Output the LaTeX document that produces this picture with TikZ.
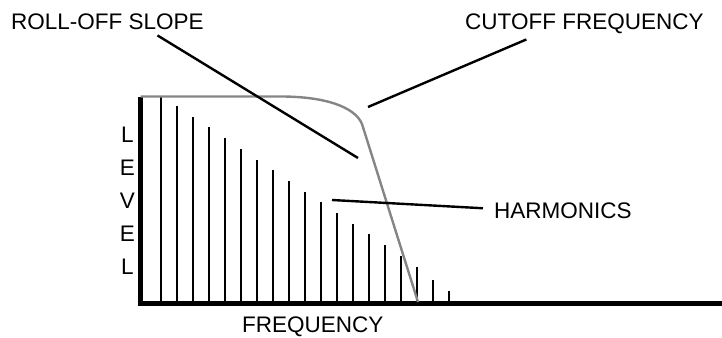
\documentclass[tikz,border=0pt]{standalone}
\usepackage{fontspec}
\setmainfont{Liberation Sans}
\usetikzlibrary{calc}

\begin{document}
\begin{tikzpicture}[
  x=1pt, y=-1pt,
  font=\fontsize{22.5}{26}\selectfont,
  callout/.style={inner sep=0pt, anchor=base west},
  letter/.style={inner sep=0pt, anchor=base},
  axis/.style={line width=5pt},
  harm/.style={line width=2pt},
  filter/.style={line width=2.4pt, black!48},
  pointer/.style={line width=2.4pt}
]
\useasboundingbox (0,0) rectangle (722,337);

\coordinate (origin) at (140.5,303.3);
\coordinate (ytop) at (140.5,96.5);
\coordinate (xend) at (722,303.3);

% harmonics
\foreach \n/\top in {0/96.5,1/106,2/116.7,3/127.4,4/138.1,5/148.8,6/159.5,7/170.2,8/180.9,
  9/191.6,10/202.3,11/213,12/223.7,13/234.4,14/245.1,15/255.8,16/266.5,17/280,18/290.7}
  \draw[harm] (161+\n*16.02,303) -- (161+\n*16.02,\top);

% axes
\draw[axis] (ytop) -- (origin);
\draw[axis] ($(origin)+(-2.5,0)$) -- (xend);

% filter response
\draw[filter] (ytop) -- (277,96.5) .. controls (325,96) and (355,107) .. (362,124) -- (418,302);

\node[callout] (rolloff) at (11,29.3) {ROLL-OFF SLOPE};
\node[callout] (cutoff) at (465,29.3) {CUTOFF FREQUENCY};
\node[callout] (harmonics) at (494,218) {HARMONICS};
\node[callout] (freq) at (242,332.5) {FREQUENCY};

\foreach \ch [count=\k from 0] in {L,E,V,E,L}
  \node[letter] (level\k) at (127.5,142.5+33*\k) {\ch};

\coordinate (slope tip) at (358,158);
\coordinate (knee tip) at (368,107);
\coordinate (harm tip) at (332,200);

\draw[pointer] ([shift={(50,5.7)}]rolloff.south) -- (slope tip);
\draw[pointer] ([shift={(-58,5.7)}]cutoff.south) -- (knee tip);
\draw[pointer] ([shift={(-11,-2)}]harmonics.west) -- (harm tip);

\end{tikzpicture}
\end{document}
